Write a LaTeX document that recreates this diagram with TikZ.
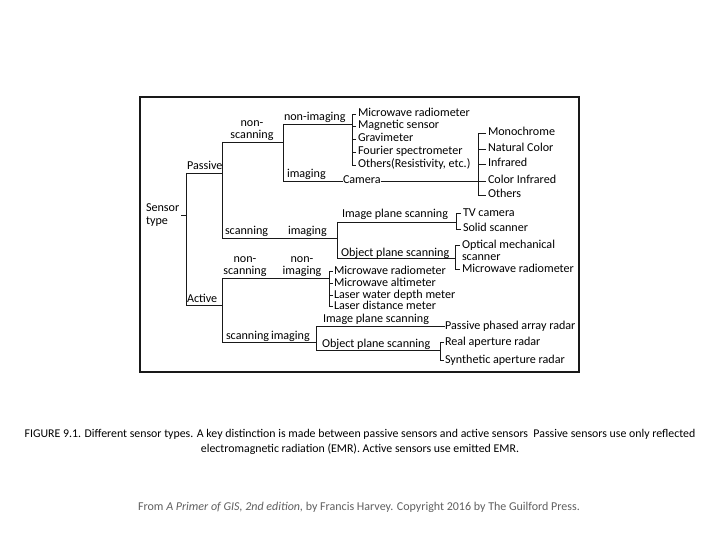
\documentclass[tikz,border=0pt]{standalone}
\usepackage{fontspec}
\setmainfont{Carlito}
\usepackage{tikz}
\usepackage{xcolor}
\definecolor{Foot-Gray}{RGB}{95, 95, 95}
\definecolor{Line-Ink}{RGB}{25, 25, 25}

\begin{document}
\begin{tikzpicture}[x=1pt, y=-1pt, line width=0.9pt, draw=Line-Ink,
  lbl/.style={inner sep=0pt, outer sep=0pt, font=\fontsize{12.1}{12}\selectfont, text height=7.8pt, text depth=2pt, anchor=base west},
  two/.style={inner sep=0pt, outer sep=0pt, font=\fontsize{12.1}{11.5}\selectfont, align=center, anchor=south}]

\useasboundingbox (0,0) rectangle (720,540);

\draw [line width=1.1pt] (140,97) rectangle (579,372);
\draw [line width=2pt] (140,372) -- (579,372);

\node [inner sep=0pt, outer sep=0pt, anchor=west, align=left, font=\fontsize{12.1}{12.5}\selectfont] (st) at (146,215) {Sensor\\type};
\node [lbl] (pas) at (187,170) {Passive};
\node [lbl] (act) at (187,302) {Active};

\node [two] (nscA) at (252,140.5) {non-\\scanning};
\node [lbl] (nimA) at (284,121) {non-imaging};
\node [lbl] (imgA) at (287,178) {imaging};
\node [lbl] (cam) at (343,184) {Camera};

\node [lbl] (mw1) at (358,117) {Microwave radiometer};
\node [lbl] (mag) at (358,129) {Magnetic sensor};
\node [lbl] (grav) at (358,142) {Gravimeter};
\node [lbl] (four) at (358,155) {Fourier spectrometer};
\node [lbl] (oth) at (358,168) {Others(Resistivity, etc.)};

\node [lbl] (mono) at (488,136) {Monochrome};
\node [lbl] (nat) at (488,152) {Natural Color};
\node [lbl] (ir) at (488,167) {Infrared};
\node [lbl] (cir) at (488,184) {Color Infrared};
\node [lbl] (oth2) at (488,198) {Others};

\node [lbl] (scnA) at (225,235) {scanning};
\node [lbl] (imgB) at (288,235) {imaging};
\node [lbl] (ips) at (342,218) {Image plane scanning};
\node [lbl] (ops) at (341,256) {Object plane scanning};
\node [lbl] (tv) at (463,216) {TV camera};
\node [lbl] (sol) at (463,232) {Solid scanner};
\node [lbl] (opt) at (462,248) {Optical mechanical};
\node [lbl] (optb) at (462,260) {scanner};
\node [lbl] (mw2) at (462,272) {Microwave radiometer};

\node [two] (nscB) at (245,276.5) {non-\\scanning};
\node [two] (nimB) at (302,276.5) {non-\\imaging};
\node [lbl] (mw3) at (334,274) {Microwave radiometer};
\node [lbl] (alt) at (334,286) {Microwave altimeter};
\node [lbl] (lwd) at (334,298) {Laser water depth meter};
\node [lbl] (ldm) at (334,309) {Laser distance meter};

\node [lbl] (scnB) at (226,339) {scanning};
\node [lbl] (imgC) at (271,339) {imaging};
\node [lbl] (ips2) at (323,322) {Image plane scanning};
\node [lbl] (ops2) at (322,347) {Object plane scanning};
\node [lbl] (ppa) at (445,329) {Passive phased array radar};
\node [lbl] (rar) at (445,345) {Real aperture radar};
\node [lbl] (sar) at (445,363) {Synthetic aperture radar};

\coordinate (tp) at (186,173);
\coordinate (ta) at (186,305);
\coordinate (p1) at (222,142);
\coordinate (p2) at (222,238);
\coordinate (pn1) at (283,124);
\coordinate (pn2) at (283,181);
\coordinate (ps1) at (337,222);
\coordinate (ps2) at (337,258);
\coordinate (a1) at (222,278);
\coordinate (a2) at (222,342);
\coordinate (as1) at (316,326);
\coordinate (as2) at (316,350);
\coordinate (b1) at ([xshift=-6pt]mw1.west);
\coordinate (b2) at ([xshift=-10pt]mono.west);
\coordinate (b3) at ([xshift=-7pt]tv.west);
\coordinate (b4) at ([xshift=-7pt]opt.west);
\coordinate (b5) at ([xshift=-5pt]mw3.west);
\coordinate (b6) at ([xshift=-5pt]rar.west);

\draw ([xshift=2pt]st.east) -- (st.east -| tp);
\draw (tp) -- (ta);
\draw (tp) -- (tp -| p1);
\draw (p1) -- (p2);
\draw (ta) -- (ta -| a1);
\draw (a1) -- (a2);

\draw (p1) -- (p1 -| pn1);
\draw (pn1) -- (pn2);
\draw (pn1) -- (pn1 -| b1);
\draw (pn2) -- (pn2 -| cam.west);
\draw (pn2 -| cam.east) -- (pn2 -| b2);
\draw ([xshift=-2pt]mw1.west) -| ([xshift=-6pt]oth.west) -- ([xshift=-2pt]oth.west);
\foreach \n in {mag,grav,four}
  \draw ([xshift=-2pt]\n.west) -- ([xshift=-6pt]\n.west);
\draw ([xshift=-2pt]mono.west) -| ([xshift=-10pt]oth2.west) -- ([xshift=-2pt]oth2.west);
\foreach \n in {nat,ir,cir}
  \draw ([xshift=-2pt]\n.west) -- ([xshift=-10pt]\n.west);

\draw (p2) -- (p2 -| ps1);
\draw (ps1) -- (ps2);
\draw (ps1) -- (ps1 -| b3);
\draw (ps2) -- (ps2 -| b4);
\draw ([xshift=-2pt]tv.west) -| ([xshift=-7pt]sol.west) -- ([xshift=-2pt]sol.west);
\draw ([xshift=-2pt]opt.west) -| ([xshift=-7pt]mw2.west) -- ([xshift=-2pt]mw2.west);

\draw (a1) -- (a1 -| b5);
\draw ([xshift=-1pt]mw3.west) -| ([xshift=-5pt]ldm.west) -- ([xshift=-1pt]ldm.west);
\foreach \n in {alt,lwd}
  \draw ([xshift=-1pt]\n.west) -- ([xshift=-5pt]\n.west);

\draw (a2) -- (a2 -| as1);
\draw (as1) -- (as2);
\draw (as1) -- (as1 -| ppa.west);
\draw (as2) -- (as2 -| b6);
\draw ([xshift=-1pt]rar.west) -| ([xshift=-5pt]sar.west) -- ([xshift=-1pt]sar.west);

\node [inner sep=0pt, align=center, font=\fontsize{11.85}{15}\selectfont] (cap) at (360,442) {FIGURE 9.1. Different sensor types. A key distinction is made between passive sensors and active sensors\ \ Passive sensors use only reflected\\electromagnetic radiation (EMR). Active sensors use emitted EMR.};

\node [inner sep=0pt, text=Foot-Gray, font=\fontsize{12}{12}\selectfont] (foot) at (359,507) {From \textit{A Primer of GIS, 2nd edition,} by Francis Harvey. Copyright 2016 by The Guilford Press.};

\end{tikzpicture}
\end{document}
